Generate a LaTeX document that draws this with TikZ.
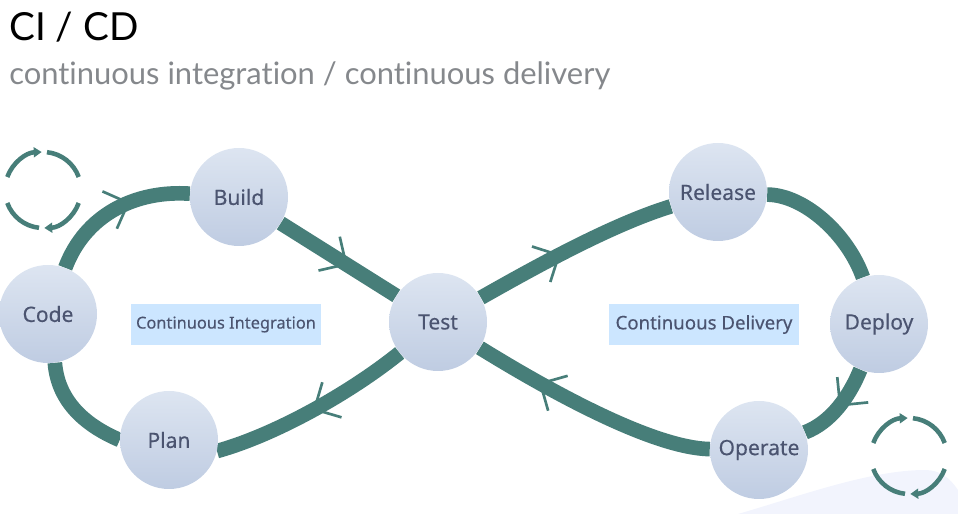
\documentclass[tikz,border=0pt]{standalone}
\usepackage{fontspec}
\setmainfont[Ligatures=NoCommon]{Lato}
\newfontfamily\labelfont[FakeBold=0.25]{Noto Sans}
\usetikzlibrary{arrows.meta,backgrounds,decorations.markings}
\definecolor{flowteal}{HTML}{477E79}
\definecolor{labelink}{HTML}{4B5470}
\definecolor{boxblue}{HTML}{CCE6FF}
\definecolor{paleblob}{HTML}{F2F4FD}
\definecolor{subgray}{HTML}{85888C}
\definecolor{discTop}{HTML}{DDE5F1}
\definecolor{discBottom}{HTML}{BFCCE2}

\begin{document}
\begin{tikzpicture}[x=0.75pt,y=0.75pt,
    stage/.style={circle,minimum size=73.5pt,inner sep=0pt,top color=discTop,bottom color=discBottom,
      text=labelink,font=\labelfont\fontsize{15.8}{18}\selectfont},
    phase/.style={fill=boxblue,minimum width=142.5pt,minimum height=30.75pt,inner sep=0pt,
      text=labelink,font=\labelfont\fontsize{#1}{15}\selectfont},
    flow/.style={draw=flowteal,line width=11pt},
    barb/.style={postaction={decorate,decoration={markings,mark=at position #1 with
      {\arrow[flowteal,line width=2pt]{Straight Barb[length=15pt,width=30pt]}}}}},
    cycle/.style={draw=flowteal,line width=3.4pt}]
  \useasboundingbox (0,0) rectangle (958,514);

  \node[anchor=base west,inner sep=0pt,font=\fontsize{29}{32}\selectfont] (title) at (9,473) {CI / CD};
  \node[anchor=base west,inner sep=0pt,text=subgray,font=\fontsize{23.2}{25}\selectfont] (subtitle) at (9,429.5)
    {continuous integration / continuous delivery};

  \node[stage] (code) at (48,200) {Code};
  \node[stage] (build) at (239,317) {Build};
  \node[stage] (test) at (438,192) {Test};
  \node[stage] (release) at (718,322) {Release};
  \node[stage] (deploy) at (879,190) {Deploy};
  \node[stage] (operate) at (759,64) {Operate};
  \node[stage] (plan) at (169,74) {Plan};

  \node[phase=12.3] (integration) at (226,189.5) {Continuous Integration};
  \node[phase=14] (delivery) at (704,189.5) {Continuous Delivery};

  \begin{scope}[on background layer]
    \fill[paleblob] (738,0) .. controls (800,18) and (870,44) .. (925,44)
      .. controls (940,44) and (950,36) .. (958,24) -- (958,0) -- cycle;
    \draw[flow,barb=0.61] (code) .. controls (85,299) and (135,324) .. (build);
    \draw[flow,barb=0.58] (build) -- (test);
    \draw[flow,barb=0.43] (test) .. controls (530,244) and (610,289) .. (release);
    \draw[flow] (release.-3) .. controls (805,319) and (848,279) .. (deploy.109);
    \draw[flow,barb=0.5] (deploy) .. controls (850,119) and (832,92) .. (operate);
    \draw[flow,barb=0.73] (operate) .. controls (650,66) and (540,129) .. (test);
    \draw[flow,barb=0.5] (test) .. controls (350,121) and (275,79) .. (plan.347);
    \draw[flow] (plan.180) .. controls (89,87) and (58,110) .. (code.-82);
  \end{scope}

  % the two small cycles
  \foreach \cx/\cy in {43/324,909/58} {
    \draw[cycle,-{Triangle[length=6pt,width=7.5pt]}] (\cx,\cy) ++(160:38) arc[start angle=160,end angle=92,radius=38];
    \draw[cycle] (\cx,\cy) ++(84:38) arc[start angle=84,end angle=20,radius=38];
    \draw[cycle,-{Triangle[length=6pt,width=7.5pt]}] (\cx,\cy) ++(-20:38) arc[start angle=-20,end angle=-88,radius=38];
    \draw[cycle] (\cx,\cy) ++(-96:38) arc[start angle=-96,end angle=-160,radius=38];
  }
\end{tikzpicture}
\end{document}
